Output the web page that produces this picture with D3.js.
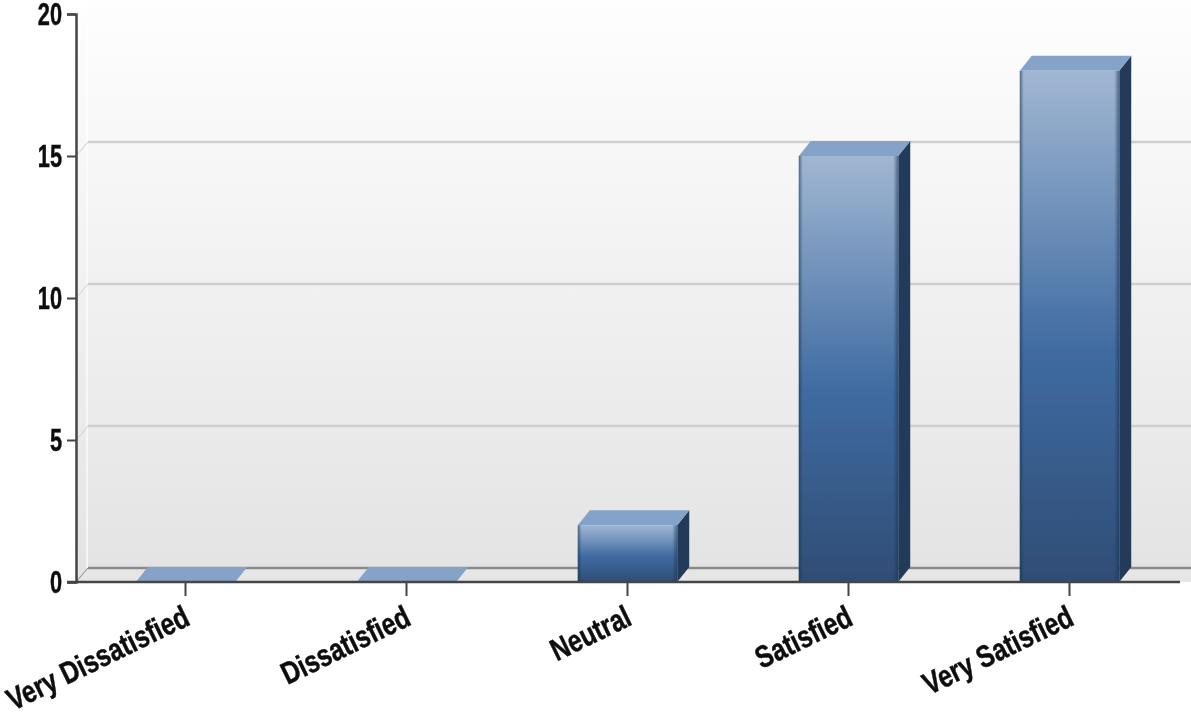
<!DOCTYPE html>
<html>
<head>
<meta charset="utf-8">
<script src="https://cdn.jsdelivr.net/npm/d3@7"></script>
<style>
  html, body { margin: 0; padding: 0; background: #fff; overflow: hidden; }
  svg { display: block; }
  text { font-family: "Liberation Sans", sans-serif; font-weight: 700; fill: #111; stroke: #111; stroke-width: 0.5; }
</style>
</head>
<body>
<svg id="chart" width="1191" height="719"></svg>
<script>
const categories = ["Very Dissatisfied", "Dissatisfied", "Neutral", "Satisfied", "Very Satisfied"];
const counts = [0, 0, 2, 15, 18];
const yTicks = [0, 5, 10, 15, 20];

const width = 1191;
const depthX = 12;
const depthY = 14;
const barDepthY = 15;
const left = 76;
const right = 1180;

const svg = d3.select("#chart");
const defs = svg.append("defs");
defs.append("filter").attr("id", "soft")
  .attr("filterUnits", "userSpaceOnUse")
  .attr("x", 0).attr("y", 0).attr("width", 1191).attr("height", 719)
  .append("feGaussianBlur").attr("stdDeviation", 0.6);

const root = svg.append("g").attr("filter", "url(#soft)");

const x = d3.scaleBand().domain(categories).range([75, right]).paddingInner(0.55).paddingOuter(0.275);
const y = d3.scaleLinear().domain([0, 20]).range([582, 14]);

const wallGrad = defs.append("linearGradient").attr("id", "wall").attr("x1", 0).attr("y1", 0).attr("x2", 0).attr("y2", 1);
wallGrad.append("stop").attr("offset", "0%").attr("stop-color", "#fefefe");
wallGrad.append("stop").attr("offset", "100%").attr("stop-color", "#e3e3e3");

const barGrad = defs.append("linearGradient").attr("id", "bar").attr("x1", 0).attr("y1", 0).attr("x2", 0).attr("y2", 1);
barGrad.append("stop").attr("offset", "0%").attr("stop-color", "#a1b7d3");
barGrad.append("stop").attr("offset", "55%").attr("stop-color", "#3f6ba1");
barGrad.append("stop").attr("offset", "100%").attr("stop-color", "#2f4d75");

const edgeGrad = defs.append("linearGradient").attr("id", "edge").attr("x1", 0).attr("y1", 0).attr("x2", 1).attr("y2", 0);
edgeGrad.append("stop").attr("offset", "0%").attr("stop-color", "#1c3350").attr("stop-opacity", 0.6);
edgeGrad.append("stop").attr("offset", "4%").attr("stop-color", "#1c3350").attr("stop-opacity", 0);
edgeGrad.append("stop").attr("offset", "95%").attr("stop-color", "#1c3350").attr("stop-opacity", 0);
edgeGrad.append("stop").attr("offset", "100%").attr("stop-color", "#1c3350").attr("stop-opacity", 0.6);

// back wall and floor
root.append("path")
  .attr("d", `M${left},${y(20)}L${left + depthX},${y(20) - depthY}H${width}V${y(0)}H${left}Z`)
  .attr("fill", "url(#wall)");
root.append("line")
  .attr("x1", left + depthX - 1).attr("x2", left + depthX - 1)
  .attr("y1", y(20) - depthY).attr("y2", y(0) - depthY)
  .attr("stroke", "#fff").attr("stroke-opacity", 0.8).attr("stroke-width", 1.5);
root.append("path")
  .attr("d", `M${left},${y(0)}L${left + depthX},${y(0) - depthY}H${width}V${y(0)}Z`)
  .attr("fill", "#e6e6e6");

// gridlines on the back wall, with the short diagonal at the side
const inner = yTicks.filter((d) => d > 0 && d < 20);
const grid = root.append("g");
grid.selectAll("line.h")
  .data(inner)
  .join("line")
  .attr("class", "h")
  .attr("x1", left + depthX).attr("x2", width)
  .attr("y1", (d) => y(d) - depthY).attr("y2", (d) => y(d) - depthY)
  .attr("stroke", "#cfcfcf").attr("stroke-width", 2.5);
grid.selectAll("line.d")
  .data(inner)
  .join("line")
  .attr("class", "d")
  .attr("x1", left).attr("x2", left + depthX)
  .attr("y1", (d) => y(d)).attr("y2", (d) => y(d) - depthY)
  .attr("stroke", "#cfcfcf").attr("stroke-width", 1);
root.append("line")
  .attr("x1", left + depthX).attr("x2", width)
  .attr("y1", y(0) - depthY).attr("y2", y(0) - depthY)
  .attr("stroke", "#8a8a8a").attr("stroke-width", 2.5);
root.append("line")
  .attr("x1", left).attr("x2", left + depthX)
  .attr("y1", y(0)).attr("y2", y(0) - depthY)
  .attr("stroke", "#8a8a8a").attr("stroke-width", 1);

// bars
const data = categories.map((name, i) => ({ name, value: counts[i] }));
const bars = root.append("g").selectAll("g").data(data).join("g");

bars.append("path")
  .attr("fill", "#223a5a")
  .attr("d", (d) => {
    const x1 = x(d.name) + x.bandwidth();
    return `M${x1},${y(d.value)}l${depthX},${-barDepthY}V${y(0) - barDepthY}L${x1},${y(0)}Z`;
  });
bars.append("path")
  .attr("fill", "#85a3c8")
  .attr("d", (d) => {
    const x0 = x(d.name);
    const x1 = x0 + x.bandwidth();
    return `M${x0},${y(d.value)}l${depthX},${-barDepthY}H${x1 + depthX}L${x1},${y(d.value)}Z`;
  });
bars.filter((d) => d.value > 0).append("rect")
  .attr("x", (d) => x(d.name)).attr("y", (d) => y(d.value))
  .attr("width", x.bandwidth()).attr("height", (d) => y(0) - y(d.value))
  .attr("fill", "url(#bar)");
bars.filter((d) => d.value > 0).append("rect")
  .attr("x", (d) => x(d.name)).attr("y", (d) => y(d.value))
  .attr("width", x.bandwidth()).attr("height", (d) => y(0) - y(d.value))
  .attr("fill", "url(#edge)");

// axes
const yAxis = d3.axisLeft(y).tickValues(yTicks).tickSize(9).tickPadding(0);
const yG = root.append("g").attr("transform", `translate(${left},0)`).call(yAxis);
yG.selectAll("text")
  .attr("font-size", 32)
  .attr("x", 0)
  .attr("dy", "0.33em")
  .attr("text-anchor", "end")
  .attr("transform", "translate(-14,0) scale(0.68,1)");

const xAxis = d3.axisBottom(x).tickSize(14).tickPadding(0);
const xG = root.append("g").attr("transform", `translate(0,${y(0)})`).call(xAxis);
xG.selectAll("text")
  .attr("font-size", 31)
  .attr("text-anchor", "end")
  .attr("y", 0)
  .attr("dy", 0)
  .attr("transform", "translate(6,42) rotate(-26) scale(0.8,1)");

root.selectAll(".domain").attr("stroke", "#444").attr("stroke-width", 2.5);
root.selectAll(".tick line").attr("stroke", "#444").attr("stroke-width", 2);
xG.select(".domain").attr("d", `M${left - 9},0H${right}`);
</script>
</body>
</html>
